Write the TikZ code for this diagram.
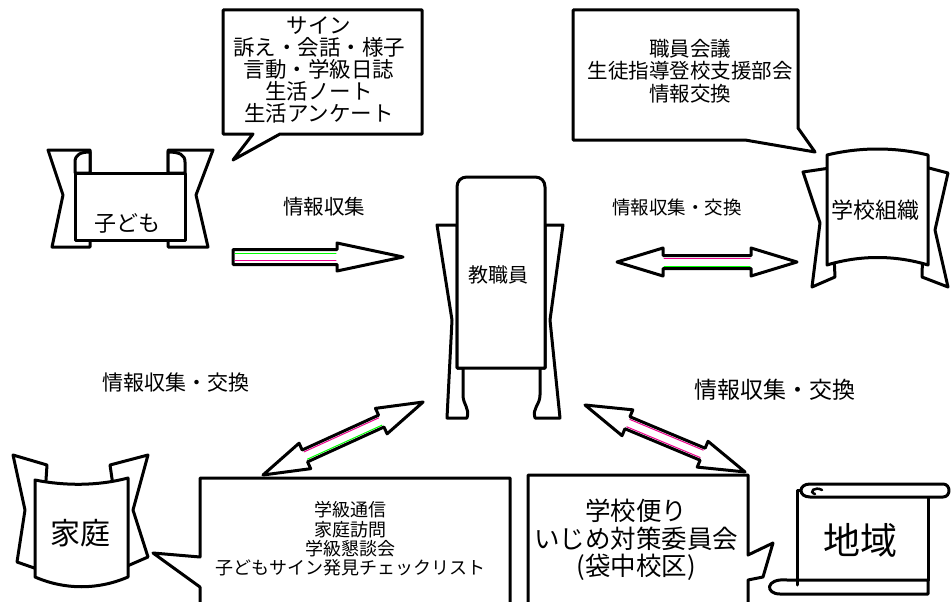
\documentclass[tikz,border=0pt]{standalone}
\usepackage{fontspec}
\setmainfont{Noto Sans CJK JP}
\usetikzlibrary{calc}

\newcommand{\fsz}[2]{\fontsize{#1}{#2}\selectfont}

\tikzset{
  outl/.style={line width=3pt, line join=round, fill=white, draw=black},
  lbl/.style={inner sep=0pt, align=center},
  stripe/.style={line width=1pt},
  lowcol/.store in=\lowcol, lowcol=green,
  pics/dblarrow/.style={code={
    \draw[outl] (0,0) -- (46,-14) -- (46,-6.5) -- ({#1-46},-6.5) -- ({#1-46},-14) -- (#1,0)
       -- ({#1-46},14) -- ({#1-46},6.5) -- (46,6.5) -- (46,14) -- cycle;
    \draw[stripe,magenta] (47,-4) -- ({#1-47},-4);
    \draw[stripe,\lowcol] (47,4) -- ({#1-47},4);
  }},
  pics/sglarrow/.style={code={
    \draw[outl] (0,-7.5) -- ({#1-66},-7.5) -- ({#1-66},-14) -- (#1,0) -- ({#1-66},14)
       -- ({#1-66},7.5) -- (0,7.5) -- cycle;
    \draw[stripe,green] (2,-3.5) -- ({#1-67},-3.5);
    \draw[stripe,magenta] (2,3.5) -- ({#1-67},3.5);
  }}
}

\begin{document}
\begin{tikzpicture}[x=1pt,y=-1pt,line cap=round]
\useasboundingbox[fill=white] (0,0) rectangle (951,602);

%callouts
\draw[outl] (223,10) -- (422,10) -- (422,134) -- (280,134) -- (233,160) -- (253,134) -- (223,134) -- cycle;
\node[lbl,font=\fsz{21.5}{22}] (sign) at (319,70) {サイン\\訴え・会話・様子\\言動・学級日誌\\生活ノート\\生活アンケート};

\draw[outl] (573,10) -- (798,10) -- (798,128) -- (815,152) -- (745,140) -- (573,140) -- cycle;
\node[lbl,font=\fsz{20.5}{22.5}] (kaigi) at (690,71) {職員会議\\生徒指導登校支援部会\\情報交換};

\draw[outl] (200,478) -- (510,478) -- (510,612) -- (200,612) -- (200,587) -- (153,553) -- (200,557) -- cycle;
\node[lbl,font=\fsz{18}{19.4}] (tsushin) at (350,539) {学級通信\\家庭訪問\\学級懇談会\\子どもサイン発見チェックリスト};

\draw[outl] (528,475) -- (748,475) -- (748,555) -- (773,543) -- (763,577) -- (748,580) -- (748,612) -- (528,612) -- cycle;
\node[lbl,font=\fsz{25.5}{27.5}] (dayori) at (636,540) {学校便り\\いじめ対策委員会\\(袋中校区)};

%kodomo
\draw[outl] (90,150) -- (48,150) -- (63,195) -- (52,247) -- (90,247) -- cycle;
\draw[outl] (168,150) -- (213,150) -- (196,195) -- (208,247) -- (168,247) -- cycle;
\draw[outl] (75,173) -- (75,162) .. controls (75,155) and (80,152) .. (90,152) -- (90,173) -- cycle;
\draw[outl] (185,173) -- (185,162) .. controls (185,155) and (180,152) .. (168,152) -- (168,173) -- cycle;
\draw[outl] (75,173) rectangle (185,240);
\node[lbl,font=\fsz{22}{24}] (kodomo) at (127,223) {子ども};

%kyoshokuin
\draw[outl] (457,225) -- (437,225) -- (452,320) -- (447,418) -- (467,418)
   .. controls (470,408) and (463,405) .. (463,395) -- (463,368) -- (457,368) -- cycle;
\draw[outl] (545,225) -- (563,225) -- (550,320) -- (560,418) -- (535,418)
   .. controls (532,408) and (540,405) .. (540,395) -- (540,368) -- (545,368) -- cycle;
\draw[outl] (457,368) -- (457,187) .. controls (457,181) and (461,177) .. (467,177) -- (535,177)
   .. controls (541,177) and (545,181) .. (545,187) -- (545,368) -- cycle;
\node[lbl,font=\fsz{20}{22}] (kyoshoku) at (498,275) {教職員};

%gakko soshiki
\draw[outl] (830,168) -- (803,172) -- (820,223) -- (812,287) -- (835,277) -- cycle;
\draw[outl] (925,167) -- (948,173) -- (935,230) -- (948,287) -- (922,277) -- cycle;
\draw[outl] (827,155) .. controls (860,147) and (895,147) .. (928,155) -- (928,265)
   .. controls (895,255) and (860,255) .. (827,265) -- cycle;
\node[lbl,font=\fsz{22}{24}] (soshiki) at (875,210) {学校組織};

%katei
\draw[outl] (47,465) -- (13,455) -- (25,510) -- (17,562) -- (40,570) -- cycle;
\draw[outl] (110,465) -- (148,455) -- (133,510) -- (148,557) -- (125,567) -- cycle;
\draw[outl] (35,480) .. controls (65,486) and (98,486) .. (128,478) -- (128,577)
   .. controls (98,590) and (65,590) .. (35,577) -- cycle;
\node[lbl,font=\fsz{30}{32}] (katei) at (80,533) {家庭};

%chiiki
\draw[outl] (797,490) -- (797,580) -- (928,580) -- (928,490) -- cycle;
\draw[outl] (787,580) .. controls (765,578) and (765,594) .. (780,594) -- (928,594) -- (928,580) -- cycle;
\draw[outl] (810,484) -- (943,484) .. controls (951,484) and (951,497) .. (943,497) -- (810,497)
   .. controls (798,497) and (798,484) .. (810,484) -- cycle;
\draw[line width=2.5pt] (822,490) .. controls (815,486) and (808,492) .. (815,494);
\draw[outl] (797,497) -- (797,585);
\node[lbl,font=\fsz{37}{40}] (chiiki) at (860,540) {地域};

%labels
\node[lbl,font=\fsz{20.5}{22}] (shushu) at (324,207) {情報収集};
\node[lbl,font=\fsz{18.5}{22}] (kokan1) at (677,207) {情報収集・交換};
\node[lbl,font=\fsz{21}{22}] (kokan2) at (176,383) {情報収集・交換};
\node[lbl,font=\fsz{23}{24}] (kokan3) at (775,390) {情報収集・交換};

%arrows
\coordinate (a0) at (233,257);
\coordinate (a1) at (617,262);
\coordinate (a2) at (263,475);
\coordinate (a3) at (585,405);
\pic at (a0) {sglarrow=170};
\pic at (a1) {dblarrow=180};
\pic[rotate=24.5] at (a2) {dblarrow=176};
\pic[rotate=-22.7,lowcol=magenta] at (a3) {dblarrow=173.5};

\end{tikzpicture}
\end{document}
